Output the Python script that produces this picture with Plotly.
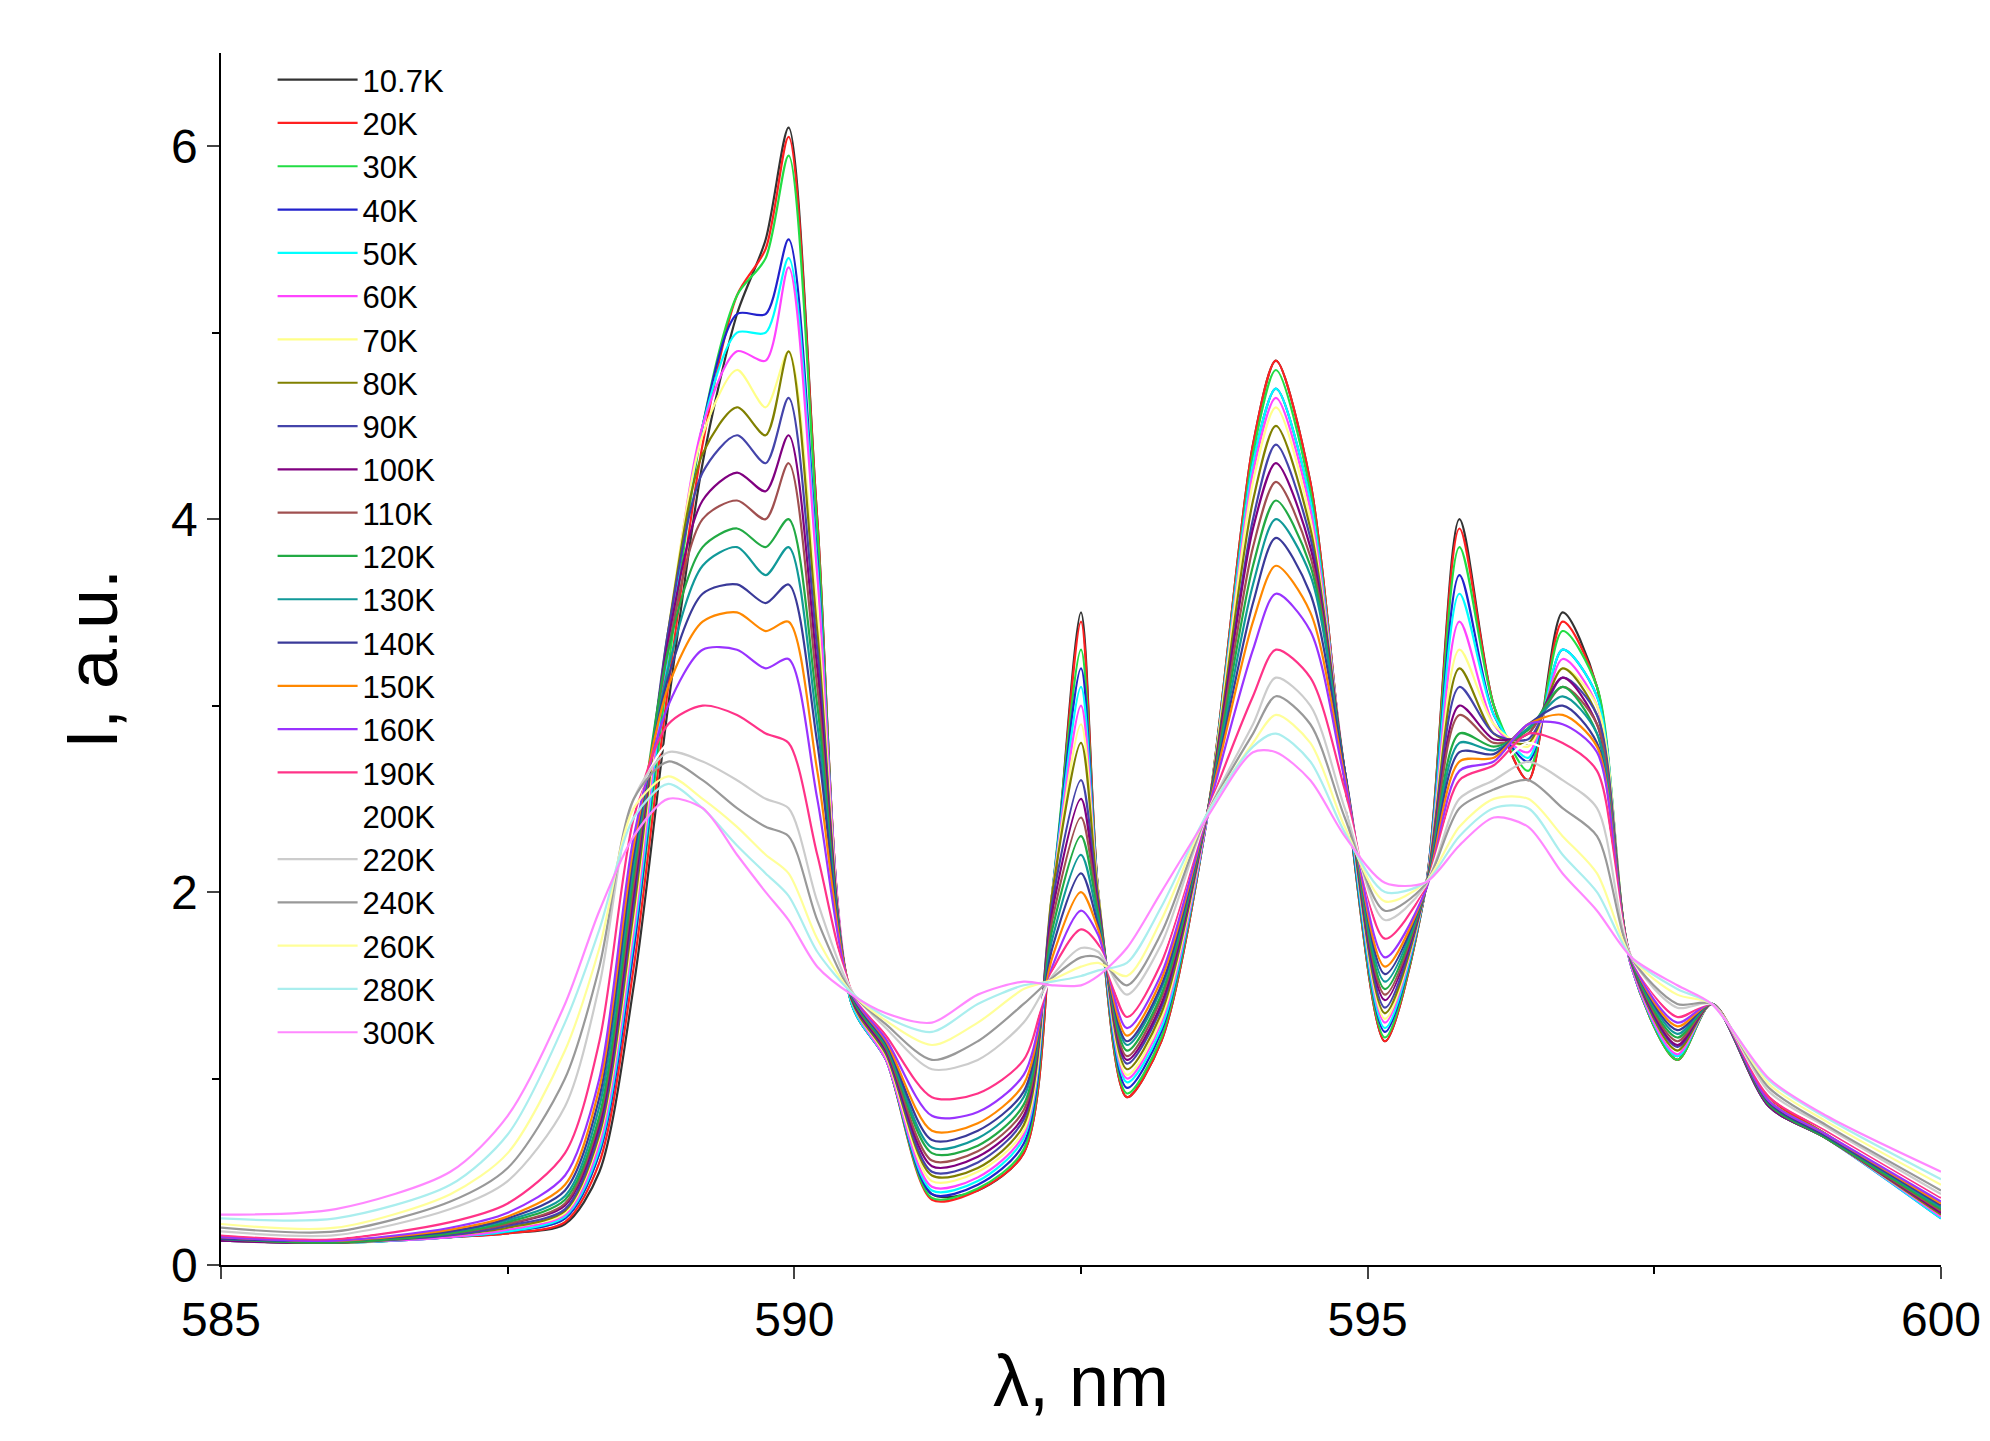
import plotly.graph_objects as go

# longitudes de onda (nm)
wl = [585, 586, 587, 587.5, 588, 588.3, 588.6, 588.9, 589.2, 589.5, 589.75, 589.95, 590.2, 590.5,
      590.8, 591.2, 591.6, 592.0, 592.25, 592.5, 592.65, 592.9, 593.2, 593.6, 594.0, 594.2, 594.5,
      594.8, 595.15, 595.5, 595.8, 596.1, 596.4, 596.7, 597.0, 597.3, 597.7, 598.0, 598.5, 599.0, 600]

labels = ["10.7K", "20K", "30K", "40K", "50K", "60K", "70K", "80K", "90K", "100K", "110K", "120K",
          "130K", "140K", "150K", "160K", "190K", "200K", "220K", "240K", "260K", "280K", "300K"]

colors = ["#333333", "#ff2020", "#22dd44", "#2222cc", "#00ffff", "#ff44ff", "#ffff88", "#808000",
          "#4444aa", "#800080", "#a05050", "#22aa44", "#119999", "#3a3a99", "#ff8800", "#9933ff",
          "#ff3388", "#ffffff", "#cccccc", "#999999", "#ffff99", "#aaeeee", "#ff88ff"]

s10 = [0.15,0.12,0.15,0.17,0.22,0.5,1.5,3.0,4.3,5.1,5.5,6.1,4.0,1.4,1.1,0.38,0.4,0.6,1.9,3.5,2.0,0.9,1.2,2.4,4.4,4.85,4.2,2.6,1.2,2.0,4.0,3.0,2.6,3.5,3.1,1.6,1.1,1.4,0.9,0.7,0.3]
s20 = [0.14,0.12,0.15,0.17,0.23,0.55,1.6,3.1,4.4,5.2,5.45,6.05,4.0,1.4,1.1,0.35,0.4,0.6,1.9,3.45,2.0,0.9,1.2,2.4,4.4,4.85,4.2,2.6,1.2,2.0,3.95,3.0,2.6,3.45,3.1,1.6,1.1,1.4,0.9,0.7,0.3]
s30 = [0.14,0.12,0.15,0.18,0.25,0.6,1.7,3.2,4.5,5.2,5.4,5.95,3.95,1.4,1.1,0.36,0.41,0.62,2.0,3.3,2.0,0.92,1.22,2.4,4.35,4.8,4.15,2.6,1.22,2.0,3.85,3.0,2.65,3.4,3.1,1.6,1.1,1.4,0.88,0.7,0.28]
s40 = [0.13,0.12,0.15,0.18,0.25,0.6,1.7,3.3,4.5,5.1,5.1,5.5,3.8,1.4,1.1,0.38,0.43,0.65,2.0,3.2,2.0,0.95,1.25,2.4,4.3,4.7,4.1,2.6,1.25,2.0,3.7,2.95,2.7,3.3,3.05,1.6,1.12,1.4,0.85,0.68,0.25]
s50 = [0.13,0.12,0.15,0.18,0.26,0.62,1.75,3.3,4.5,5.0,5.0,5.4,3.75,1.4,1.1,0.4,0.45,0.68,2.0,3.1,2.0,0.98,1.27,2.4,4.3,4.7,4.1,2.62,1.27,2.0,3.6,2.95,2.72,3.3,3.05,1.6,1.12,1.4,0.85,0.68,0.25]
s60 = [0.13,0.12,0.15,0.19,0.27,0.65,1.8,3.35,4.5,4.9,4.85,5.35,3.7,1.42,1.1,0.42,0.47,0.7,2.0,3.0,2.0,1.0,1.3,2.4,4.25,4.65,4.05,2.65,1.3,2.0,3.45,2.9,2.75,3.25,3.0,1.6,1.13,1.4,0.85,0.68,0.26]
s70 = [0.13,0.12,0.16,0.2,0.28,0.68,1.85,3.4,4.45,4.8,4.6,4.9,3.5,1.42,1.12,0.45,0.5,0.72,2.0,2.9,2.0,1.02,1.32,2.42,4.2,4.6,4.0,2.65,1.32,2.0,3.3,2.9,2.78,3.2,3.0,1.62,1.15,1.4,0.85,0.68,0.27]
s80 = [0.13,0.12,0.16,0.2,0.29,0.7,1.9,3.4,4.35,4.6,4.45,4.9,3.4,1.42,1.13,0.48,0.52,0.75,2.0,2.8,1.98,1.05,1.35,2.42,4.1,4.5,3.95,2.65,1.35,2.0,3.2,2.85,2.8,3.2,2.95,1.62,1.15,1.4,0.85,0.68,0.27]
s90 = [0.13,0.12,0.16,0.21,0.3,0.72,1.95,3.4,4.25,4.45,4.3,4.65,3.3,1.43,1.14,0.5,0.55,0.78,1.95,2.6,1.95,1.08,1.38,2.42,4.0,4.4,3.9,2.65,1.38,2.0,3.1,2.85,2.82,3.15,2.95,1.62,1.17,1.4,0.85,0.68,0.28]
s100 = [0.13,0.12,0.17,0.22,0.32,0.75,2.0,3.35,4.1,4.25,4.15,4.45,3.2,1.43,1.15,0.53,0.58,0.8,1.9,2.5,1.92,1.1,1.4,2.42,3.95,4.3,3.85,2.65,1.42,2.0,3.0,2.82,2.85,3.15,2.9,1.63,1.18,1.4,0.85,0.68,0.28]
s110 = [0.14,0.12,0.17,0.22,0.33,0.78,2.05,3.3,4.0,4.1,4.0,4.3,3.1,1.44,1.16,0.56,0.61,0.83,1.85,2.4,1.9,1.12,1.43,2.42,3.85,4.2,3.8,2.65,1.45,2.0,2.95,2.8,2.85,3.1,2.9,1.63,1.2,1.4,0.86,0.68,0.29]
s120 = [0.14,0.12,0.17,0.23,0.35,0.8,2.1,3.3,3.85,3.95,3.85,4.0,3.0,1.44,1.17,0.6,0.64,0.86,1.8,2.3,1.88,1.15,1.45,2.42,3.75,4.1,3.75,2.65,1.48,2.0,2.85,2.78,2.87,3.1,2.85,1.63,1.22,1.4,0.86,0.68,0.3]
s130 = [0.14,0.13,0.18,0.24,0.37,0.85,2.15,3.2,3.75,3.85,3.7,3.85,2.9,1.45,1.18,0.63,0.68,0.9,1.75,2.2,1.85,1.18,1.48,2.42,3.65,4.0,3.7,2.65,1.52,2.0,2.8,2.76,2.88,3.05,2.85,1.64,1.24,1.4,0.87,0.69,0.31]
s140 = [0.14,0.13,0.18,0.25,0.4,0.9,2.2,3.15,3.6,3.65,3.55,3.65,2.8,1.45,1.19,0.67,0.72,0.93,1.7,2.1,1.82,1.2,1.5,2.42,3.55,3.9,3.6,2.65,1.56,2.0,2.75,2.74,2.9,3.0,2.8,1.64,1.26,1.4,0.87,0.69,0.32]
s150 = [0.15,0.13,0.19,0.26,0.43,0.95,2.25,3.1,3.45,3.5,3.4,3.45,2.65,1.46,1.2,0.72,0.76,0.97,1.65,2.0,1.8,1.23,1.53,2.42,3.45,3.75,3.5,2.62,1.6,2.0,2.7,2.72,2.9,2.95,2.78,1.64,1.28,1.4,0.88,0.7,0.33]
s160 = [0.15,0.13,0.2,0.28,0.48,1.0,2.3,3.0,3.3,3.3,3.2,3.25,2.5,1.46,1.21,0.8,0.82,1.02,1.6,1.9,1.77,1.27,1.56,2.42,3.3,3.6,3.4,2.6,1.65,2.0,2.65,2.7,2.9,2.9,2.75,1.64,1.3,1.4,0.88,0.7,0.34]
s190 = [0.16,0.14,0.23,0.33,0.6,1.2,2.4,2.9,3.0,2.95,2.85,2.8,2.2,1.47,1.23,0.9,0.92,1.1,1.58,1.8,1.72,1.33,1.62,2.42,3.05,3.3,3.15,2.55,1.75,2.02,2.6,2.68,2.85,2.8,2.65,1.65,1.33,1.4,0.9,0.72,0.36]
s200 = [0.17,0.15,0.26,0.38,0.7,1.35,2.45,2.8,2.85,2.75,2.65,2.6,2.05,1.47,1.25,0.98,1.0,1.18,1.56,1.75,1.7,1.38,1.66,2.42,2.95,3.2,3.05,2.5,1.8,2.03,2.55,2.65,2.8,2.7,2.55,1.65,1.35,1.4,0.92,0.73,0.37]
s220 = [0.18,0.16,0.3,0.45,0.85,1.5,2.5,2.75,2.7,2.6,2.5,2.45,1.95,1.47,1.27,1.05,1.1,1.3,1.55,1.7,1.68,1.45,1.72,2.42,2.9,3.15,3.0,2.45,1.85,2.03,2.5,2.6,2.7,2.6,2.45,1.65,1.38,1.4,0.93,0.74,0.38]
s240 = [0.2,0.18,0.34,0.52,1.0,1.6,2.5,2.7,2.6,2.45,2.35,2.3,1.85,1.46,1.29,1.1,1.2,1.4,1.54,1.65,1.65,1.5,1.78,2.42,2.85,3.05,2.9,2.4,1.9,2.04,2.45,2.55,2.6,2.45,2.3,1.65,1.4,1.4,0.95,0.75,0.4]
s260 = [0.22,0.2,0.38,0.6,1.15,1.7,2.45,2.62,2.5,2.35,2.2,2.1,1.75,1.46,1.31,1.18,1.3,1.48,1.53,1.6,1.62,1.55,1.85,2.42,2.8,2.95,2.8,2.35,1.95,2.05,2.35,2.5,2.5,2.3,2.1,1.65,1.45,1.4,0.97,0.77,0.43]
s280 = [0.25,0.25,0.43,0.7,1.3,1.8,2.4,2.58,2.45,2.25,2.1,1.98,1.68,1.46,1.33,1.25,1.4,1.5,1.52,1.55,1.58,1.62,1.92,2.42,2.78,2.85,2.7,2.32,2.0,2.05,2.3,2.45,2.45,2.2,2.0,1.65,1.48,1.4,0.99,0.79,0.46]
s300 = [0.27,0.3,0.5,0.8,1.4,1.9,2.3,2.5,2.45,2.2,2.0,1.85,1.6,1.45,1.35,1.3,1.45,1.52,1.5,1.5,1.55,1.7,2.0,2.4,2.75,2.75,2.6,2.3,2.05,2.05,2.25,2.4,2.35,2.1,1.9,1.65,1.5,1.4,1.0,0.8,0.5]

series = [s10, s20, s30, s40, s50, s60, s70, s80, s90, s100, s110, s120, s130, s140, s150, s160,
          s190, s200, s220, s240, s260, s280, s300]

fig = go.Figure()
for name, col, ys in zip(labels, colors, series):
    fig.add_trace(go.Scatter(x=wl, y=ys, mode="lines", name=name,
                             line=dict(color=col, width=2.2, shape="spline", smoothing=0.8)))

fig.update_layout(
    width=1990, height=1441,
    plot_bgcolor="white", paper_bgcolor="white",
    margin=dict(l=213, r=57, t=45, b=184),
    font=dict(family="Liberation Sans, Arial", color="black"),
    legend=dict(x=0.03, y=1.0, xanchor="left", yanchor="top", bgcolor="rgba(0,0,0,0)",
                font=dict(size=31), itemwidth=80, tracegroupgap=0),
)
fig.update_xaxes(range=[585, 600], tickvals=[585, 590, 595, 600], ticks="outside", ticklen=12,
                 tickwidth=1.5, showline=True, linecolor="black", linewidth=1.5, showgrid=False,
                 zeroline=False, tickfont=dict(size=48),
                 minor=dict(tickvals=[587.5, 592.5, 597.5], ticks="outside", ticklen=7, tickcolor="black"),
                 title=dict(text="λ, nm", font=dict(size=72), standoff=10))
fig.update_yaxes(range=[0, 6.5], tickvals=[0, 2, 4, 6], ticks="outside", ticklen=12,
                 tickwidth=1.5, showline=True, linecolor="black", linewidth=1.5, showgrid=False,
                 zeroline=False, tickfont=dict(size=48),
                 minor=dict(tickvals=[1, 3, 5], ticks="outside", ticklen=7, tickcolor="black"),
                 title=dict(text="I, a.u.", font=dict(size=72), standoff=30))

fig.write_html("out.html")
